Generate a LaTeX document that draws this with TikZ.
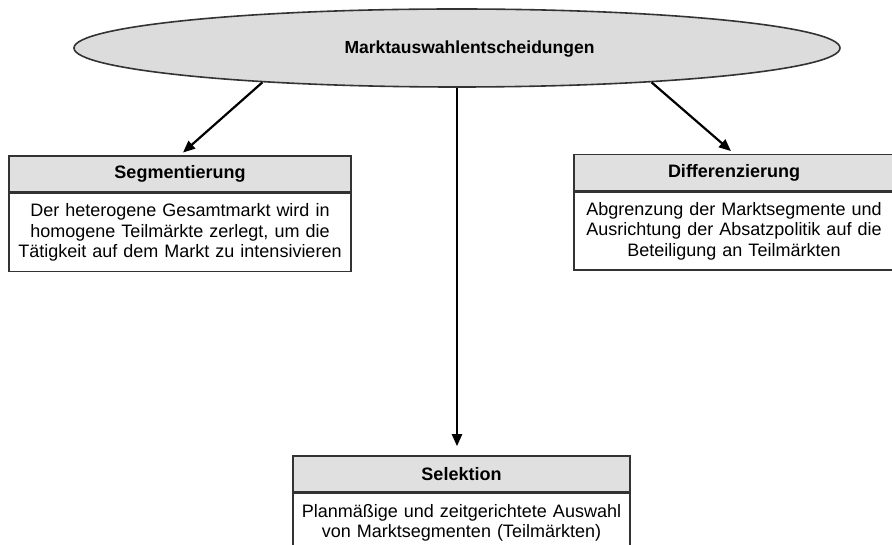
\documentclass[tikz,border=0pt]{standalone}
\usepackage{fontspec}
\setmainfont{Liberation Sans}
\usetikzlibrary{shapes.geometric,arrows.meta}

\definecolor{ovalfill}{HTML}{DCDCDC}
\definecolor{headfill}{HTML}{E0E0E0}
\definecolor{rimgray}{HTML}{333333}

\tikzset{
  oval/.style={ellipse, draw=rimgray, line width=1.6pt, fill=ovalfill,
    minimum width=766pt, minimum height=78pt, inner sep=0pt},
  titletext/.style={font=\fontsize{17.5}{20}\selectfont\bfseries, inner sep=0pt},
  headbox/.style={draw=rimgray, line width=1.6pt, fill=headfill,
    minimum height=36pt, inner sep=0pt,
    font=\fontsize{18}{20}\selectfont\bfseries},
  bodybox/.style={draw=rimgray, line width=1.6pt, fill=white, anchor=north,
    inner xsep=2pt, inner ysep=10pt, align=center,
    font=\fontsize{18}{20.5}\selectfont},
  arr/.style={line width=2.2pt, -{Triangle[length=12pt,width=10pt]}, shorten >=4pt}
}

\begin{document}
\begin{tikzpicture}[x=1pt,y=-1pt]
  \useasboundingbox (0,0) rectangle (892,545);

  % top ellipse with its title
  \node[oval] (e) at (457,48) {};
  \node[titletext] (title) at ([xshift=12.5pt,yshift=-1pt]e.center) {Marktauswahlentscheidungen};

  % Segmentierung
  \node[headbox, minimum width=342pt] (segh) at (180,174) {Segmentierung};
  \node[bodybox, minimum width=342pt, minimum height=77pt, text width=338pt] (segb) at (segh.south)
    {Der heterogene Gesamtmarkt wird in\\homogene Teilmärkte zerlegt, um die\\Tätigkeit auf dem Markt zu intensivieren};

  % Differenzierung
  \node[headbox, minimum width=320pt] (difh) at (734,172.5) {Differenzierung};
  \node[bodybox, minimum width=320pt, minimum height=78pt, text width=316pt] (difb) at (difh.south)
    {Abgrenzung der Marktsegmente und\\Ausrichtung der Absatzpolitik auf die\\Beteiligung an Teilmärkten};

  % Selektion
  \node[headbox, minimum width=337pt] (selh) at (461.5,474) {Selektion};
  \node[bodybox, minimum width=337pt, minimum height=58pt, text width=333pt] (selb) at (selh.south)
    {Planmäßige und zeitgerichtete Auswahl\\von Marktsegmenten (Teilmärkten)};

  % connectors
  \draw[arr] (e.190) -- (segh.north);
  \draw[arr] (e.350) -- (difh.north);
  \draw[arr, shorten >=9pt] (e.south) -- (e.south |- selh.north);
\end{tikzpicture}
\end{document}
